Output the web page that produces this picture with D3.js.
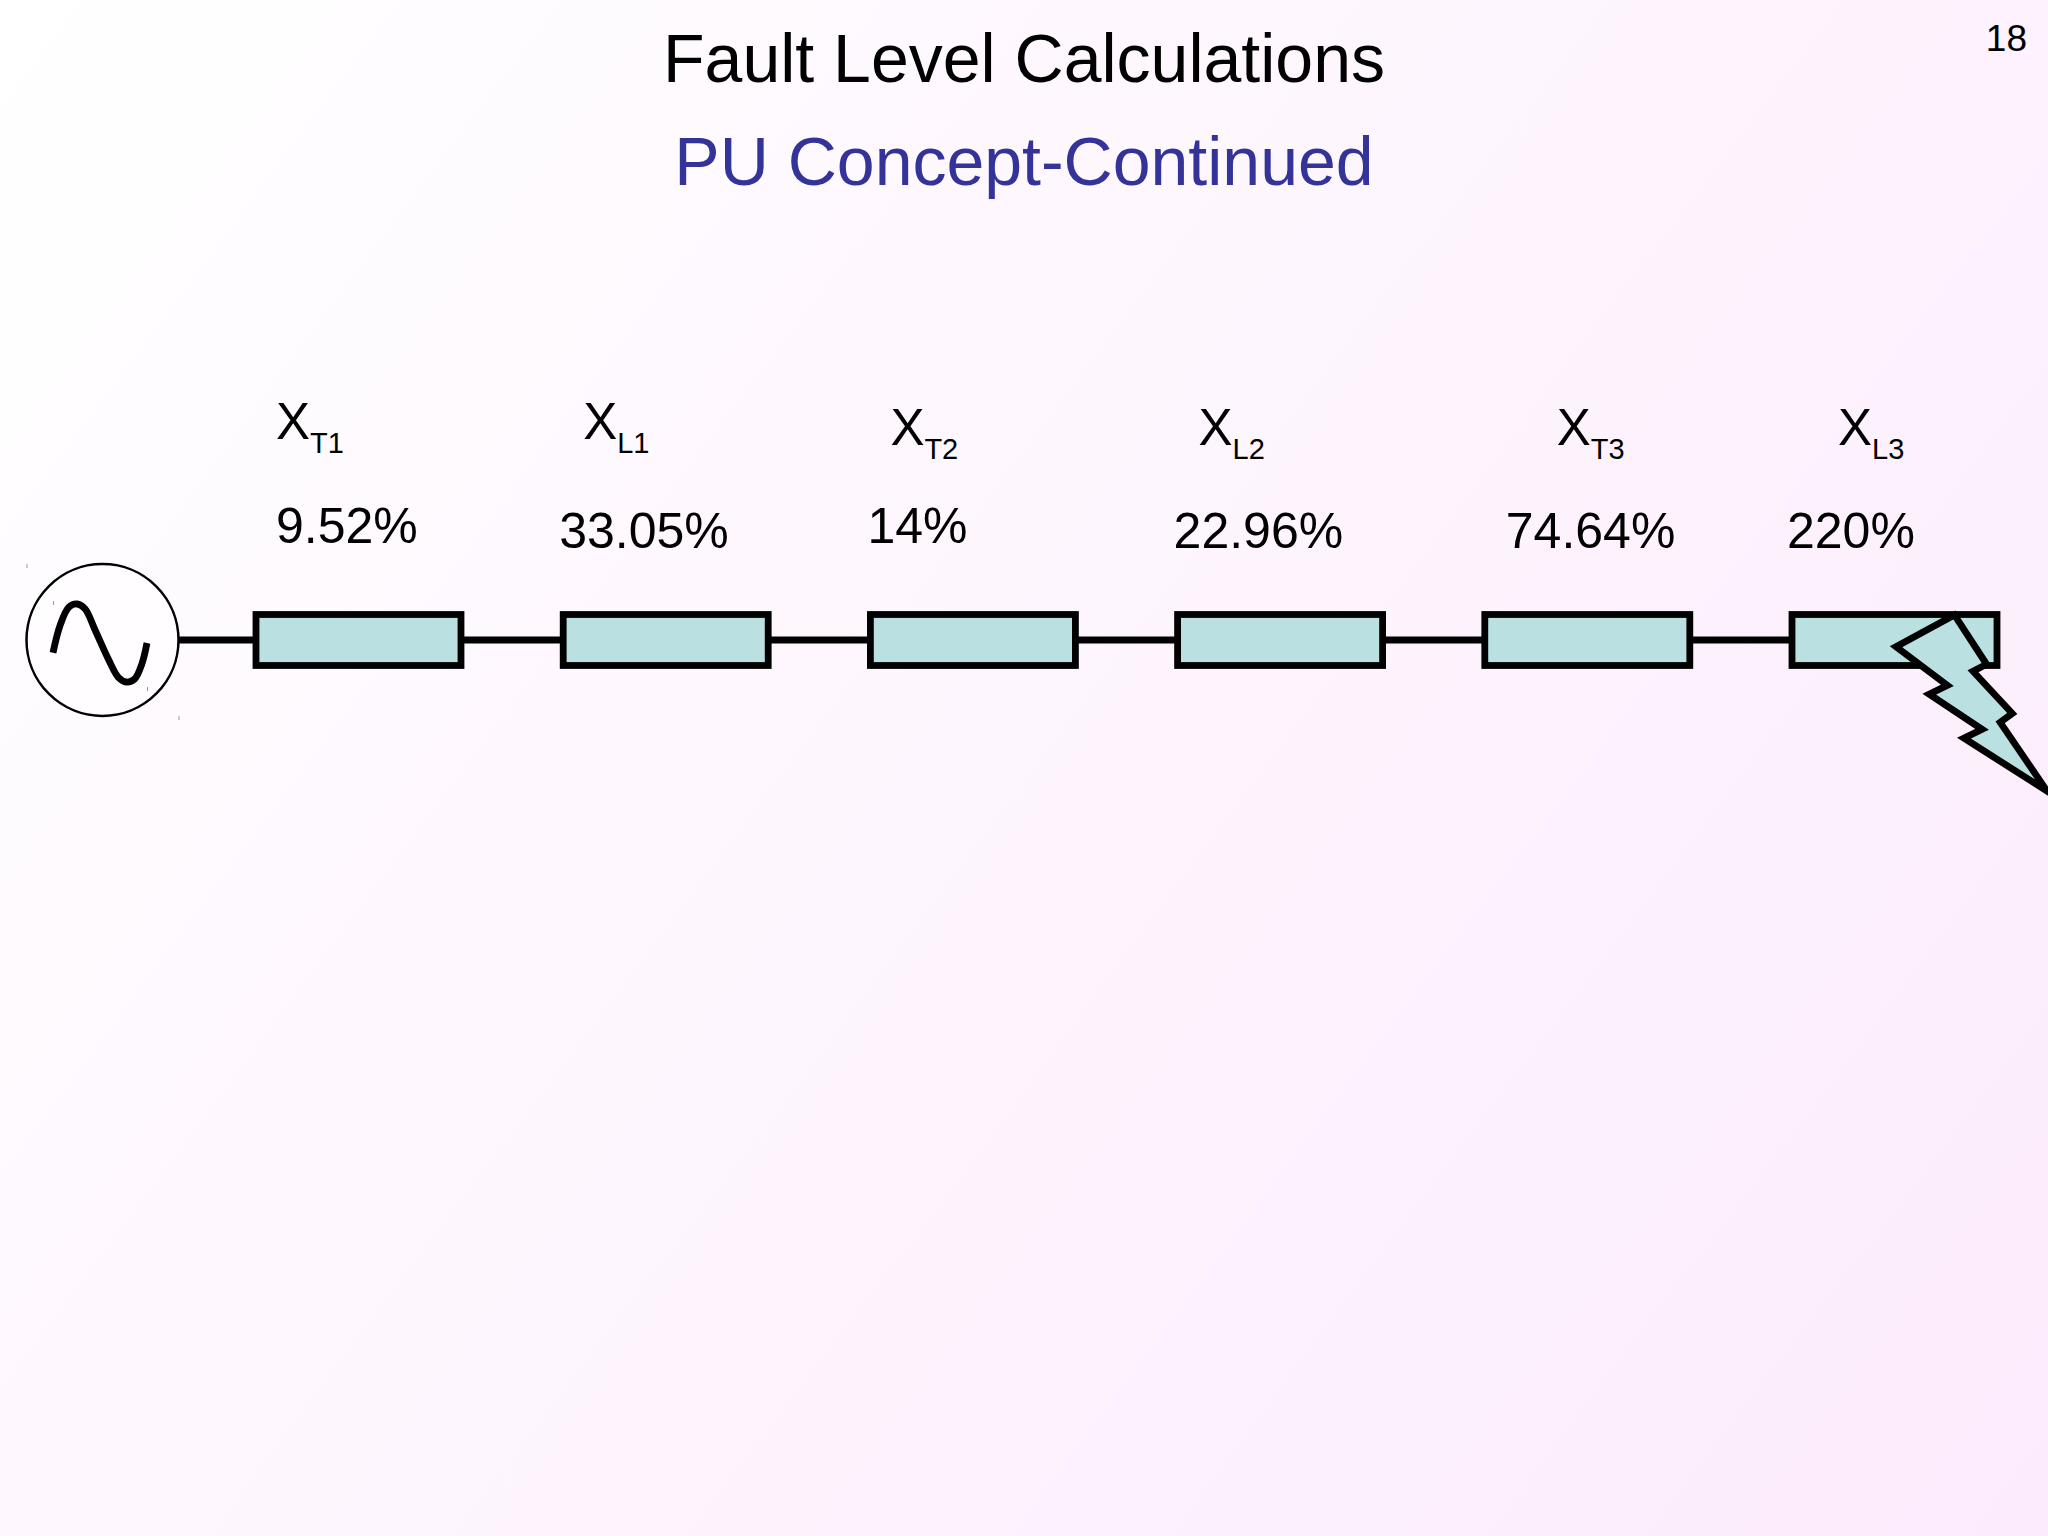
<!DOCTYPE html>
<html>
<head>
<meta charset="utf-8">
<script src="https://cdn.jsdelivr.net/npm/d3@7"></script>
<style>
  html, body { margin: 0; padding: 0; background: #fff; }
  svg { display: block; }
  text { font-family: "Liberation Sans", Arial, sans-serif; fill: #000; }
</style>
</head>
<body>
<div id="chart"></div>
<script>
// values
const symbols = ["X", "X", "X", "X", "X", "X"];
const subscripts = ["T1", "L1", "T2", "L2", "T3", "L3"];
const reactances = [9.52, 33.05, 14, 22.96, 74.64, 220];

const title = "Fault Level Calculations";
const subtitle = "PU Concept-Continued";
const pageNumber = "18";

// shapes, in percent of their own bounding box
const sineX = [0, 7.5, 17, 25.5, 34, 45, 59, 69.5, 78, 87, 94.5, 100];
const sineY = [62.5, 27.5, 4, 0, 6, 34, 71, 94, 100, 96, 77, 50];
const boltX = [38.7, 0, 34, 22, 57, 45, 100, 69, 77, 51, 60];
const boltY = [0, 18, 40, 45, 65, 70, 100, 61, 56, 32, 28];

const width = 2048,
  height = 1536,
  wireY = 640,
  boxW = 205,
  boxH = 51,
  strokeW = 6.8;

var svg = d3
  .select("#chart")
  .append("svg")
  .attr("width", width)
  .attr("height", height);

// page background
var grad = svg
  .append("defs")
  .append("linearGradient")
  .attr("id", "bg")
  .attr("gradientUnits", "userSpaceOnUse")
  .attr("x1", 0)
  .attr("y1", 0)
  .attr("x2", width)
  .attr("y2", height);
grad.append("stop").attr("offset", "0%").attr("stop-color", "#ffffff");
grad.append("stop").attr("offset", "100%").attr("stop-color", "#fcebfc");
svg.append("rect").attr("width", width).attr("height", height).attr("fill", "url(#bg)");

// headings
svg.append("text").attr("x", 1024).attr("y", 82).attr("text-anchor", "middle")
  .style("font-size", "68px").text(title);
svg.append("text").attr("x", 1024).attr("y", 185).attr("text-anchor", "middle")
  .style("font-size", "68px").style("fill", "#333399").text(subtitle);
svg.append("text").attr("x", 2027).attr("y", 51).attr("text-anchor", "end")
  .style("font-size", "37px").text(pageNumber);

// one box per reactance
var x = d3.scalePoint().domain(subscripts).range([256, 1792]);

svg.append("line")
  .attr("x1", 179).attr("x2", x(subscripts[subscripts.length - 1]))
  .attr("y1", wireY).attr("y2", wireY)
  .attr("stroke", "#000").attr("stroke-width", strokeW);

svg.selectAll(".box")
  .data(subscripts)
  .enter()
  .append("rect")
  .attr("class", "box")
  .attr("x", (d) => x(d))
  .attr("y", wireY - boxH / 2)
  .attr("width", boxW)
  .attr("height", boxH)
  .attr("fill", "#bae0e2")
  .attr("stroke", "#000")
  .attr("stroke-width", strokeW);

// labels sit a little off the boxes, not on a strict grid
const symbolDx = [20, 20, 20, 21, 72, 46];
const symbolY = [439, 439, 445, 445, 445, 445];
const valueDx = [20, -4, -3, -4, 21, -5];
const valueY = [543, 548, 543, 548, 548, 548];

svg.selectAll(".symbol")
  .data(symbols)
  .enter()
  .append("text")
  .attr("class", "symbol")
  .attr("x", (d, i) => x(subscripts[i]) + symbolDx[i])
  .attr("y", (d, i) => symbolY[i])
  .style("font-size", "51px")
  .text((d) => d);

svg.selectAll(".sub")
  .data(subscripts)
  .enter()
  .append("text")
  .attr("class", "sub")
  .attr("x", (d, i) => x(d) + symbolDx[i] + 34)
  .attr("y", (d, i) => symbolY[i] + 14)
  .style("font-size", "29px")
  .text((d) => d);

svg.selectAll(".value")
  .data(reactances)
  .enter()
  .append("text")
  .attr("class", "value")
  .attr("x", (d, i) => x(subscripts[i]) + valueDx[i])
  .attr("y", (d, i) => valueY[i])
  .style("font-size", "50px")
  .text((d) => d + "%");

// generator
const genX = 102.5,
  genR = 76;
svg.append("circle")
  .attr("cx", genX).attr("cy", wireY).attr("r", genR)
  .attr("fill", "#fff").attr("fill-opacity", 0.5)
  .attr("stroke", "#000").attr("stroke-width", 2.5);

var sx = d3.scaleLinear().domain([0, 100]).range([53, 147]);
var sy = d3.scaleLinear().domain([0, 100]).range([604, 682]);
svg.append("path")
  .datum(sineX.map((d, i) => [d, sineY[i]]))
  .attr("d", d3.line().x((d) => sx(d[0])).y((d) => sy(d[1])).curve(d3.curveCatmullRom))
  .attr("fill", "none")
  .attr("stroke", "#000")
  .attr("stroke-width", strokeW);

// leftover selection specks at the corners of the symbol
svg.selectAll(".speck")
  .data([
    [genX - genR, wireY - genR],
    [genX + genR, wireY + genR],
    [sx(0), sy(0) - 3],
    [sx(100), sy(100) + 5],
  ])
  .enter()
  .append("rect")
  .attr("class", "speck")
  .attr("x", (d) => d[0])
  .attr("y", (d) => d[1])
  .attr("width", 1)
  .attr("height", 4)
  .attr("fill", "#999");

// fault bolt
var bx = d3.scaleLinear().domain([0, 100]).range([1896, 2047]);
var by = d3.scaleLinear().domain([0, 100]).range([615, 791]);
svg.append("path")
  .datum(boltX.map((d, i) => [d, boltY[i]]))
  .attr("d", d3.line().x((d) => bx(d[0])).y((d) => by(d[1])).curve(d3.curveLinearClosed))
  .attr("fill", "#bae0e2")
  .attr("stroke", "#000")
  .attr("stroke-width", strokeW)
  .attr("stroke-miterlimit", 20);
</script>
</body>
</html>
